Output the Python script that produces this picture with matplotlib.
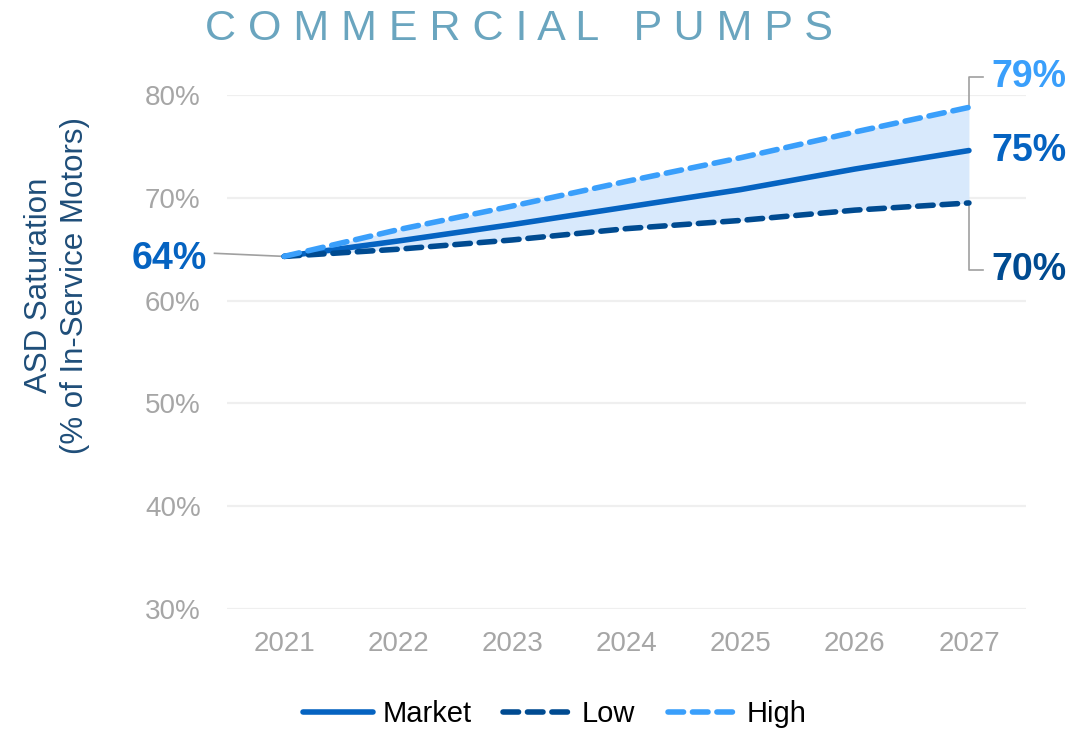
import matplotlib.pyplot as plt

plt.rcParams['font.family'] = ['Liberation Sans', 'DejaVu Sans']

# data (percent)
years = [2021, 2022, 2023, 2024, 2025, 2026, 2027]
market = [64.3, 65.8, 67.4, 69.1, 70.8, 72.8, 74.6]
low = [64.3, 65.0, 65.9, 67.0, 67.8, 68.8, 69.5]
high = [64.3, 66.9, 69.2, 71.6, 73.9, 76.4, 78.8]
yticks = [30, 40, 50, 60, 70, 80]

c_market = '#0563c1'
c_low = '#004b91'
c_high = '#3a9ffb'
c_fill = '#d8e9fc'
c_tick = '#a6a6a6'

fig = plt.figure(figsize=(10.71, 7.31), dpi=100)
ax = fig.add_axes([0.212, 0.167, 0.746, 0.703])

ax.fill_between(years, low, high, color=c_fill, lw=0, zorder=1)
ax.plot(years, market, color=c_market, lw=4, solid_capstyle='round', label='Market', zorder=3)
ax.plot(years, low, color=c_low, lw=4, dashes=(2.8, 1.6), dash_capstyle='round', label='Low', zorder=3)
ax.plot(years, high, color=c_high, lw=4, dashes=(2.8, 1.6), dash_capstyle='round', label='High', zorder=3)

ax.set_xlim(2020.5, 2027.5)
ax.set_ylim(30, 80)
ax.set_xticks(years)
ax.set_yticks(yticks)
ax.set_yticklabels([f'{v}%' for v in yticks])
ax.tick_params(axis='both', length=0, labelsize=20, labelcolor=c_tick)
ax.tick_params(axis='x', pad=16)
ax.tick_params(axis='y', pad=19)
ax.grid(axis='y', color='#efefef', lw=1.6, zorder=0)
ax.set_axisbelow(True)
for s in ax.spines.values():
    s.set_visible(False)

# end labels with leader lines
lead = dict(color='#a0a0a0', lw=1.2, clip_on=False, zorder=2)
ax.plot([2027, 2027, 2027.12], [high[-1], 81.75, 81.75], **lead)
ax.plot([2027, 2027, 2027.12], [low[-1], 63.0, 63.0], **lead)
ax.plot([2020.39, 2021], [64.6, market[0]], **lead)

lab = dict(fontsize=27, fontweight='bold', va='center', clip_on=False)
ax.text(2027.2, 81.75, f'{round(high[-1])}%', color=c_high, ha='left', **lab)
ax.text(2027.2, market[-1], f'{round(market[-1])}%', color=c_market, ha='left', **lab)
ax.text(2027.2, 63.0, f'{round(low[-1])}%', color=c_low, ha='left', **lab)
ax.text(2020.32, 64.0, f'{round(market[0])}%', color=c_market, ha='right', **lab)

fig.text(0.053, 0.61, 'ASD Saturation\n(% of In-Service Motors)', rotation=90,
         ha='center', va='center', multialignment='center',
         fontsize=22.5, color='#1f4e79', linespacing=1.25)

fig.text(0.485, 0.961, ' '.join('COMMERCIAL') + '   ' + ' '.join('PUMPS'),
         ha='center', va='center', fontsize=31, color='#6aa5bf')

fig.legend(loc='center', bbox_to_anchor=(0.518, 0.023), ncol=3, frameon=False,
           fontsize=21, handlelength=2.4, columnspacing=1.1, handletextpad=0.3)

fig.savefig('out.png', dpi=100)
